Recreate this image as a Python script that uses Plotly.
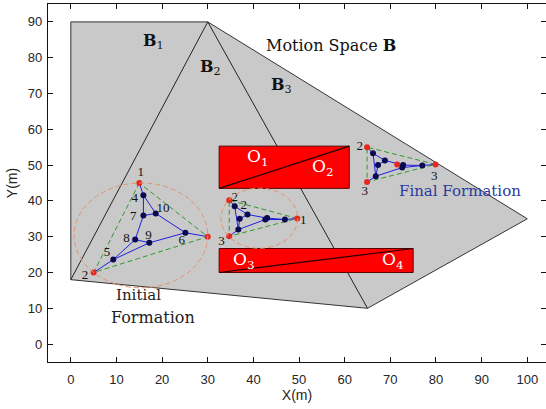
import plotly.graph_objects as go

# ---------------- data ----------------
x_ticks = list(range(0, 101, 10))
y_ticks = list(range(0, 91, 10))

# motion space polygon and its dividing lines
space_x = [0, 30, 100, 65, 0, 0]
space_y = [90, 90, 35, 10, 18, 90]
div1_x = [30, 0]
div1_y = [90, 18]
div2_x = [30, 65]
div2_y = [90, 10]

# obstacles (O1/O2 and O3/O4)
obsA_x = [32.5, 61, 61, 32.5, 32.5]
obsA_y = [43.5, 43.5, 55.3, 55.3, 43.5]
obsA_diag_x = [32.5, 61]
obsA_diag_y = [43.5, 55.3]
obsB_x = [32.5, 75, 75, 32.5, 32.5]
obsB_y = [20, 20, 26.7, 26.7, 20]
obsB_diag_x = [32.5, 75]
obsB_diag_y = [20, 26.7]

# initial formation (nodes 1..10)
init_x = [15, 5, 30, 15.9, 9.3, 25.1, 15.9, 14.1, 17.2, 18.6]
init_y = [45, 20, 30, 41.6, 23.6, 31.1, 35.9, 29.2, 28.3, 36.5]
init_edges = [(1, 4), (4, 7), (7, 10), (4, 10), (7, 8), (8, 5), (5, 2), (5, 9), (8, 9), (9, 6), (10, 6), (6, 3)]
init_leaders = [1, 2, 3]
init_labels = ["1", "2", "4", "10", "7", "8", "9", "6", "5"]
init_lab_x = [15.3, 3.1, 14.0, 20.2, 13.7, 12.2, 17.0, 24.3, 7.9]
init_lab_y = [48.0, 19.1, 40.6, 37.9, 35.7, 29.5, 30.3, 28.9, 25.6]

# intermediate formation
mid_x = [49.6, 34.7, 34.7, 35.9, 38.7, 37.0, 36.7, 42.6, 43.0, 46.9]
mid_y = [35.1, 40.2, 30.1, 38.5, 36.2, 35.0, 32.0, 34.8, 35.2, 34.8]
mid_edges = [(2, 4), (4, 5), (4, 7), (5, 6), (6, 7), (7, 3), (5, 9), (7, 8), (8, 10), (9, 10), (10, 1)]
mid_leaders = [1, 2, 3]
mid_labels = ["1", "2", "2", "3"]
mid_lab_x = [50.9, 35.9, 37.9, 33.0]
mid_lab_y = [34.4, 40.8, 38.7, 28.6]

# final formation
fin_x = [79.9, 64.9, 64.9, 66.2, 68.8, 67.3, 66.8, 72.8, 72.6, 77.0, 71.5]
fin_y = [50.2, 55.0, 45.3, 53.3, 51.3, 50.0, 46.9, 50.0, 49.3, 49.9, 50.2]
fin_edges = [(2, 4), (4, 5), (4, 7), (5, 6), (6, 7), (7, 3), (5, 8), (7, 9), (8, 10), (9, 10), (10, 1)]
fin_leaders = [1, 2, 3, 11]
fin_labels = ["2", "3", "3"]
fin_lab_x = [63.3, 64.4, 79.6]
fin_lab_y = [55.0, 42.6, 46.8]

# circumscribing circles (center x, center y, radius)
circ_cx = [15.36, 41.3]
circ_cy = [30.36, 35.15]
circ_r = [14.64, 8.4]

# ---------------- figure ----------------
BLUE_LINE = "#1f1fe0"
NODE_BLUE = "#0a0a50"
NODE_RED = "#e8281e"
GREEN = "#2e9a2e"
ORANGE = "#e2916e"
SERIF = "DejaVu Serif, Liberation Serif, serif"
DIGITS = "Liberation Serif, DejaVu Serif, serif"
SANS = "Liberation Sans, Arial, sans-serif"

fig = go.Figure()

fig.add_trace(go.Scatter(x=space_x, y=space_y, mode="lines", fill="toself",
                         fillcolor="#c9c9c9", line=dict(color="#333333", width=1),
                         hoverinfo="skip", showlegend=False))
for xs, ys in [(div1_x, div1_y), (div2_x, div2_y)]:
    fig.add_trace(go.Scatter(x=xs, y=ys, mode="lines", line=dict(color="#222222", width=1),
                             hoverinfo="skip", showlegend=False))

for xs, ys, dx, dy in [(obsA_x, obsA_y, obsA_diag_x, obsA_diag_y),
                       (obsB_x, obsB_y, obsB_diag_x, obsB_diag_y)]:
    fig.add_trace(go.Scatter(x=xs, y=ys, mode="lines", fill="toself", fillcolor="#ff0000",
                             line=dict(color="#5a0000", width=1), hoverinfo="skip", showlegend=False))
    fig.add_trace(go.Scatter(x=dx, y=dy, mode="lines", line=dict(color="#200000", width=1.2),
                             hoverinfo="skip", showlegend=False))


def edges_xy(nx, ny, edges):
    ex, ey = [], []
    for a, b in edges:
        ex += [nx[a - 1], nx[b - 1], None]
        ey += [ny[a - 1], ny[b - 1], None]
    return ex, ey


def add_formation(nx, ny, edges, leaders):
    tri = leaders[:3] + [leaders[0]]
    fig.add_trace(go.Scatter(x=[nx[i - 1] for i in tri], y=[ny[i - 1] for i in tri], mode="lines",
                             line=dict(color=GREEN, width=1, dash="5px,3px"),
                             hoverinfo="skip", showlegend=False))
    ex, ey = edges_xy(nx, ny, edges)
    fig.add_trace(go.Scatter(x=ex, y=ey, mode="lines", line=dict(color=BLUE_LINE, width=1),
                             hoverinfo="skip", showlegend=False))
    others = [i for i in range(1, len(nx) + 1) if i not in leaders]
    fig.add_trace(go.Scatter(x=[nx[i - 1] for i in others], y=[ny[i - 1] for i in others],
                             mode="markers", marker=dict(color=NODE_BLUE, size=6),
                             hoverinfo="skip", showlegend=False))
    fig.add_trace(go.Scatter(x=[nx[i - 1] for i in leaders], y=[ny[i - 1] for i in leaders],
                             mode="markers", marker=dict(color=NODE_RED, size=6),
                             hoverinfo="skip", showlegend=False))


add_formation(init_x, init_y, init_edges, init_leaders)
add_formation(mid_x, mid_y, mid_edges, mid_leaders)
add_formation(fin_x, fin_y, fin_edges, fin_leaders)

for cx, cy, r in zip(circ_cx, circ_cy, circ_r):
    fig.add_shape(type="circle", xref="x", yref="y", x0=cx - r, x1=cx + r, y0=cy - r, y1=cy + r,
                  line=dict(color=ORANGE, width=1, dash="5px,3px"), layer="above")

for labs, lx, ly in [(init_labels, init_lab_x, init_lab_y),
                     (mid_labels, mid_lab_x, mid_lab_y),
                     (fin_labels, fin_lab_x, fin_lab_y)]:
    fig.add_trace(go.Scatter(x=lx, y=ly, mode="text", text=labs,
                             textfont=dict(family=DIGITS, size=13, color="#111111"),
                             hoverinfo="skip", showlegend=False))

annots = [
    ("<b>B</b><sub>1</sub>", 18.2, 84.6, 16, "#111111"),
    ("<b>B</b><sub>2</sub>", 30.6, 77.2, 16, "#111111"),
    ("<b>B</b><sub>3</sub>", 46.1, 72.3, 16, "#111111"),
    ("Motion Space <b>B</b>", 56.9, 83.4, 16, "#111111"),
    ("O<sub>1</sub>", 40.9, 52.2, 17, "white"),
    ("O<sub>2</sub>", 55.3, 49.3, 17, "white"),
    ("O<sub>3</sub>", 37.9, 23.4, 17, "white"),
    ("O<sub>4</sub>", 70.5, 23.3, 17, "white"),
    ("Initial", 14.9, 13.7, 15, "#222222"),
    ("Formation", 18.1, 7.4, 16, "#222222"),
    ("Final Formation", 85.2, 42.8, 15, "#2b3a9e"),
]
for t, x, y, s, c in annots:
    fig.add_annotation(x=x, y=y, text=t, showarrow=False, xref="x", yref="y",
                       font=dict(family=SERIF, size=s, color=c))

axis_common = dict(showgrid=False, zeroline=False, ticks="inside", ticklen=5, tickwidth=1,
                   tickcolor="#111111", showline=True, linecolor="#111111", linewidth=1.3,
                   mirror="ticks", tickfont=dict(family=SANS, size=13, color="#262626"))

fig.update_layout(
    width=546, height=409,
    margin=dict(l=48, r=0, t=4, b=47, autoexpand=False),
    paper_bgcolor="white", plot_bgcolor="white",
    xaxis=dict(range=[-5, 104.1], tickvals=x_ticks, ticklabelstandoff=5,
               title=dict(text="X(m)", font=dict(family=SANS, size=14, color="#262626"), standoff=4),
               **axis_common),
    yaxis=dict(range=[-5, 95], tickvals=y_ticks, ticklabelstandoff=2,
               title=dict(text="Y(m)", font=dict(family=SANS, size=14, color="#262626"), standoff=6),
               **axis_common),
)

fig.write_html("out.html", config={"displayModeBar": False},
               post_script="document.body.style.margin='0px';document.body.style.overflow='hidden';")
